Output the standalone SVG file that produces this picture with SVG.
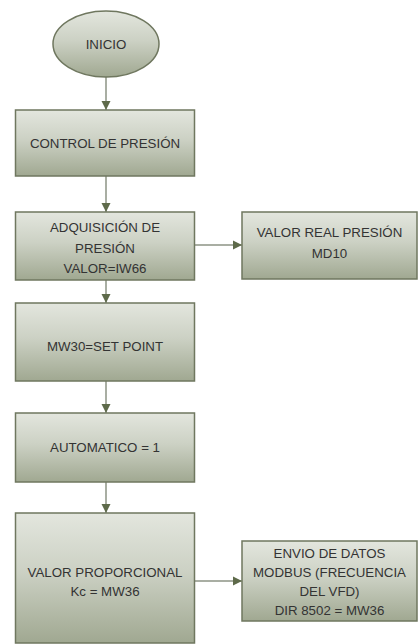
<svg xmlns="http://www.w3.org/2000/svg" width="419" height="644" viewBox="0 0 419 644">
<defs>
<linearGradient id="g" x1="0" y1="0" x2="0" y2="1">
<stop offset="0" stop-color="#e3e6de"/>
<stop offset="0.45" stop-color="#ccd1c4"/>
<stop offset="1" stop-color="#a0a891"/>
</linearGradient>
<marker id="ah" viewBox="0 0 10 10" refX="10" refY="5" markerWidth="9" markerHeight="10" markerUnits="userSpaceOnUse" orient="auto">
<path d="M0,0 L10,5 L0,10 z" fill="#5e6a4a"/>
</marker>
<style>
.n{fill:url(#g);stroke:#6f775f;stroke-width:1.5}
.t{font-family:"Liberation Sans",Arial,sans-serif;font-size:13.3px;fill:#333333;text-anchor:middle}
.c{stroke:#8d9384;stroke-width:1.5;fill:none;marker-end:url(#ah)}
</style>
</defs>
<rect width="419" height="644" fill="#ffffff"/>
<g id="connectors">
<path class="c" d="M106,77 V110"/>
<path class="c" d="M106,176 V212"/>
<path class="c" d="M194,245 H242"/>
<path class="c" d="M106,280 V303"/>
<path class="c" d="M106,381 V413"/>
<path class="c" d="M106,482 V513"/>
<path class="c" d="M194,581 H242"/>
</g>
<g id="inicio">
<ellipse class="n" cx="106" cy="44" rx="53" ry="33"/>
<text class="t" x="106" y="48.5">INICIO</text>
</g>
<g id="control">
<rect class="n" x="15.5" y="110" width="179" height="66"/>
<text class="t" x="105" y="147.5">CONTROL DE PRESIÓN</text>
</g>
<g id="adquisicion">
<rect class="n" x="15.5" y="212" width="179" height="68"/>
<text class="t" x="105" y="232">ADQUISICIÓN DE</text>
<text class="t" x="105" y="252.5">PRESIÓN</text>
<text class="t" x="105" y="273">VALOR=IW66</text>
</g>
<g id="valorreal">
<rect class="n" x="242" y="212" width="175" height="67"/>
<text class="t" x="329.5" y="237">VALOR REAL PRESIÓN</text>
<text class="t" x="329.5" y="257.5">MD10</text>
</g>
<g id="setpoint">
<rect class="n" x="15.5" y="303" width="179" height="78"/>
<text class="t" x="105" y="350.5">MW30=SET POINT</text>
</g>
<g id="automatico">
<rect class="n" x="15.5" y="413" width="179" height="69"/>
<text class="t" x="105" y="451.5">AUTOMATICO = 1</text>
</g>
<g id="proporcional">
<rect class="n" x="15.5" y="513" width="179" height="130"/>
<text class="t" x="105" y="577">VALOR PROPORCIONAL</text>
<text class="t" x="105" y="596">Kc = MW36</text>
</g>
<g id="envio">
<rect class="n" x="242" y="541" width="175" height="80"/>
<text class="t" x="329.5" y="558">ENVIO DE DATOS</text>
<text class="t" x="329.5" y="577">MODBUS (FRECUENCIA</text>
<text class="t" x="329.5" y="596">DEL VFD)</text>
<text class="t" x="329.5" y="615">DIR 8502 = MW36</text>
</g>
</svg>
